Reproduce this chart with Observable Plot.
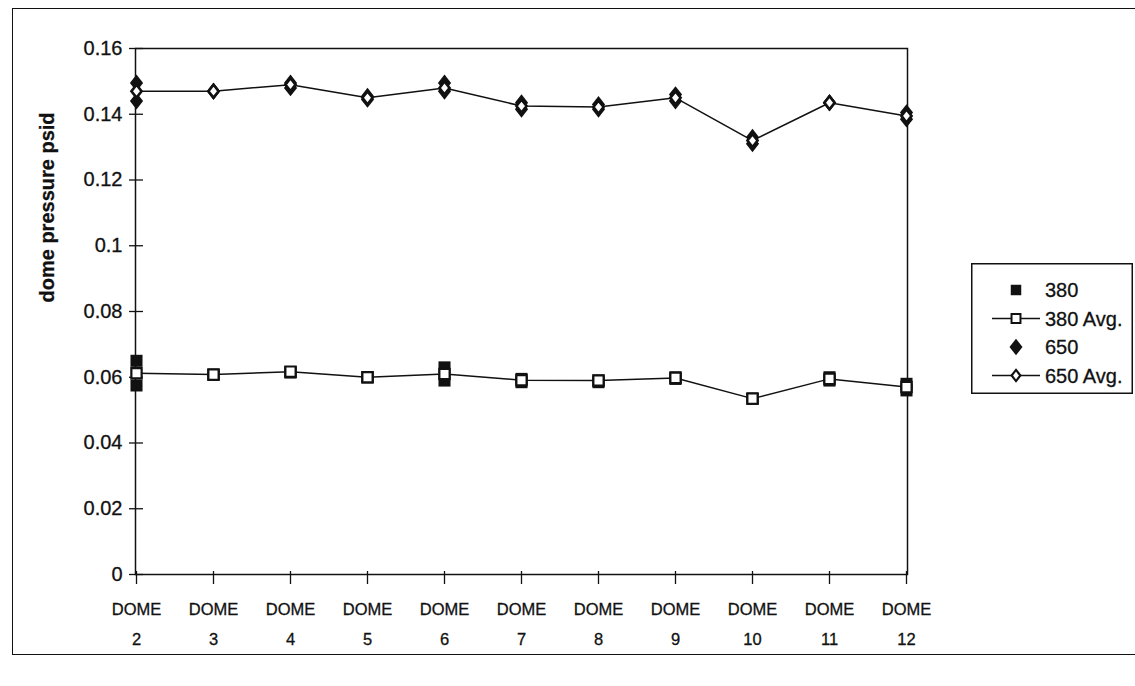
<!DOCTYPE html>
<html>
<head>
<meta charset="utf-8">
<script src="https://cdn.jsdelivr.net/npm/d3@7"></script>
<script src="https://cdn.jsdelivr.net/npm/@observablehq/plot@0.6"></script>
<style>
  html, body { margin: 0; padding: 0; background: #fff; }
  body { width: 1135px; height: 686px; position: relative; overflow: hidden; font-family: "Liberation Sans", Arial, sans-serif; }
  #frame { position: absolute; left: 12px; top: 8px; width: 1140px; height: 647px; border: 1.5px solid #111; box-sizing: border-box; }
  #chart { position: absolute; left: 0; top: 0; }
  #chart text, #legend text { stroke: #111; stroke-width: 0.3px; }
  #legend { position: absolute; left: 971px; top: 263px; }
</style>
</head>
<body>
<div id="frame"></div>
<div id="chart"></div>
<div id="legend"></div>
<script>
const domes = ["2", "3", "4", "5", "6", "7", "8", "9", "10", "11", "12"];
const run380a = [0.065, 0.0608, 0.0615, 0.0600, 0.063, 0.0595, 0.0590, 0.0600, 0.0535, 0.0600, 0.0580];
const run380b = [0.0575, 0.0608, 0.0615, 0.0600, 0.059, 0.0585, 0.0585, 0.0595, 0.0535, 0.0590, 0.0560];
const avg380 = [0.0612, 0.0608, 0.0617, 0.0600, 0.0610, 0.0591, 0.0590, 0.0598, 0.0535, 0.0595, 0.0570];
const run650a = [0.1495, 0.147, 0.1495, 0.1455, 0.1495, 0.1435, 0.1430, 0.1460, 0.1330, 0.1435, 0.1405];
const run650b = [0.1440, 0.147, 0.1480, 0.1445, 0.1470, 0.1415, 0.1415, 0.1440, 0.1310, 0.1435, 0.1385];
const avg650 = [0.1470, 0.147, 0.1490, 0.1450, 0.1480, 0.1425, 0.1422, 0.1450, 0.1320, 0.1435, 0.1395];
const yTicks = [0, 0.02, 0.04, 0.06, 0.08, 0.1, 0.12, 0.14, 0.16];
const seriesNames = ["380", "380 Avg.", "650", "650 Avg."];

const rows = (vals) => domes.map((d, i) => ({dome: d, v: vals[i]}));
const fmt = d => String(+d.toFixed(2));

// slightly tall diamond, like the spreadsheet marker
const tallDiamond = {
  draw(ctx, size) {
    const r = Math.sqrt(size / Math.PI);
    const h = r * 1.4, w = r * 1.1;
    ctx.moveTo(0, -h); ctx.lineTo(w, 0); ctx.lineTo(0, h); ctx.lineTo(-w, 0); ctx.closePath();
  }
};

const plot = Plot.plot({
  width: 1135,
  height: 686,
  marginLeft: 135,
  marginRight: 228,
  marginTop: 48,
  marginBottom: 112,
  style: {fontFamily: "'Liberation Sans', Arial, sans-serif", fontSize: "17px", color: "#111", background: "transparent"},
  x: {type: "point", domain: domes, padding: 0},
  y: {domain: [0, 0.16]},
  marks: [
    Plot.frame({stroke: "#111", strokeWidth: 1.5}),
    Plot.axisY({ticks: yTicks, tickSize: 14, dx: 8, tickPadding: 7, tickFormat: fmt, label: null, fontSize: 20, stroke: "#111", strokeWidth: 1.3}),
    Plot.axisX({tickSize: 13, dy: -3, tickPadding: 8.5, tickFormat: d => "DOME\n" + d, label: null, fontSize: 16.5, lineHeight: 1.85, stroke: "#111", strokeWidth: 1.3}),
    Plot.text(["dome pressure psid"], {frameAnchor: "left", dx: -88, dy: -9, rotate: -90, fontWeight: "bold", fontSize: 20, fill: "#111"}),
    Plot.dot(rows(run380a), {x: "dome", y: "v", symbol: "square", r: 6.8, fill: "#111"}),
    Plot.dot(rows(run380b), {x: "dome", y: "v", symbol: "square", r: 6.8, fill: "#111"}),
    Plot.dot(rows(run650a), {x: "dome", y: "v", symbol: tallDiamond, r: 6, fill: "#111"}),
    Plot.dot(rows(run650b), {x: "dome", y: "v", symbol: tallDiamond, r: 6, fill: "#111"}),
    Plot.line(rows(avg380), {x: "dome", y: "v", stroke: "#111", strokeWidth: 1.5}),
    Plot.dot(rows(avg380), {x: "dome", y: "v", symbol: "square", r: 5.8, fill: "#fff", stroke: "#111", strokeWidth: 2.2}),
    Plot.line(rows(avg650), {x: "dome", y: "v", stroke: "#111", strokeWidth: 1.5}),
    Plot.dot(rows(avg650), {x: "dome", y: "v", symbol: tallDiamond, r: 4.6, fill: "#fff", stroke: "#111", strokeWidth: 2.6})
  ]
});
document.getElementById("chart").appendChild(plot);

// Legend
const lw = 162, lh = 131;
const svg = d3.select("#legend").append("svg").attr("width", lw).attr("height", lh)
  .style("font-family", "'Liberation Sans', Arial, sans-serif");
svg.append("rect").attr("x", 0.75).attr("y", 0.75).attr("width", lw - 1.5).attr("height", lh - 1.5)
  .attr("fill", "#fff").attr("stroke", "#111").attr("stroke-width", 1.5);
const kinds = [
  {sym: d3.symbolSquare, size: 110, fill: "#111", stroke: "none", sw: 0, line: false},
  {sym: d3.symbolSquare, size: 80, fill: "#fff", stroke: "#111", sw: 2, line: true},
  {sym: tallDiamond, size: 110, fill: "#111", stroke: "none", sw: 0, line: false},
  {sym: tallDiamond, size: 50, fill: "#fff", stroke: "#111", sw: 2.2, line: true}
];
seriesNames.forEach((name, i) => {
  const g = svg.append("g").attr("transform", `translate(0, ${27 + i * 28.5})`);
  const k = kinds[i];
  if (k.line) g.append("line").attr("x1", 21).attr("x2", 69).attr("y1", 0).attr("y2", 0).attr("stroke", "#111").attr("stroke-width", 1.5);
  g.append("path").attr("d", d3.symbol(k.sym, k.size)()).attr("transform", "translate(45,0)")
    .attr("fill", k.fill).attr("stroke", k.stroke).attr("stroke-width", k.sw);
  g.append("text").attr("x", 74).attr("y", 0).attr("dy", "0.36em").attr("font-size", 20).attr("fill", "#111").text(name);
});
</script>
</body>
</html>
